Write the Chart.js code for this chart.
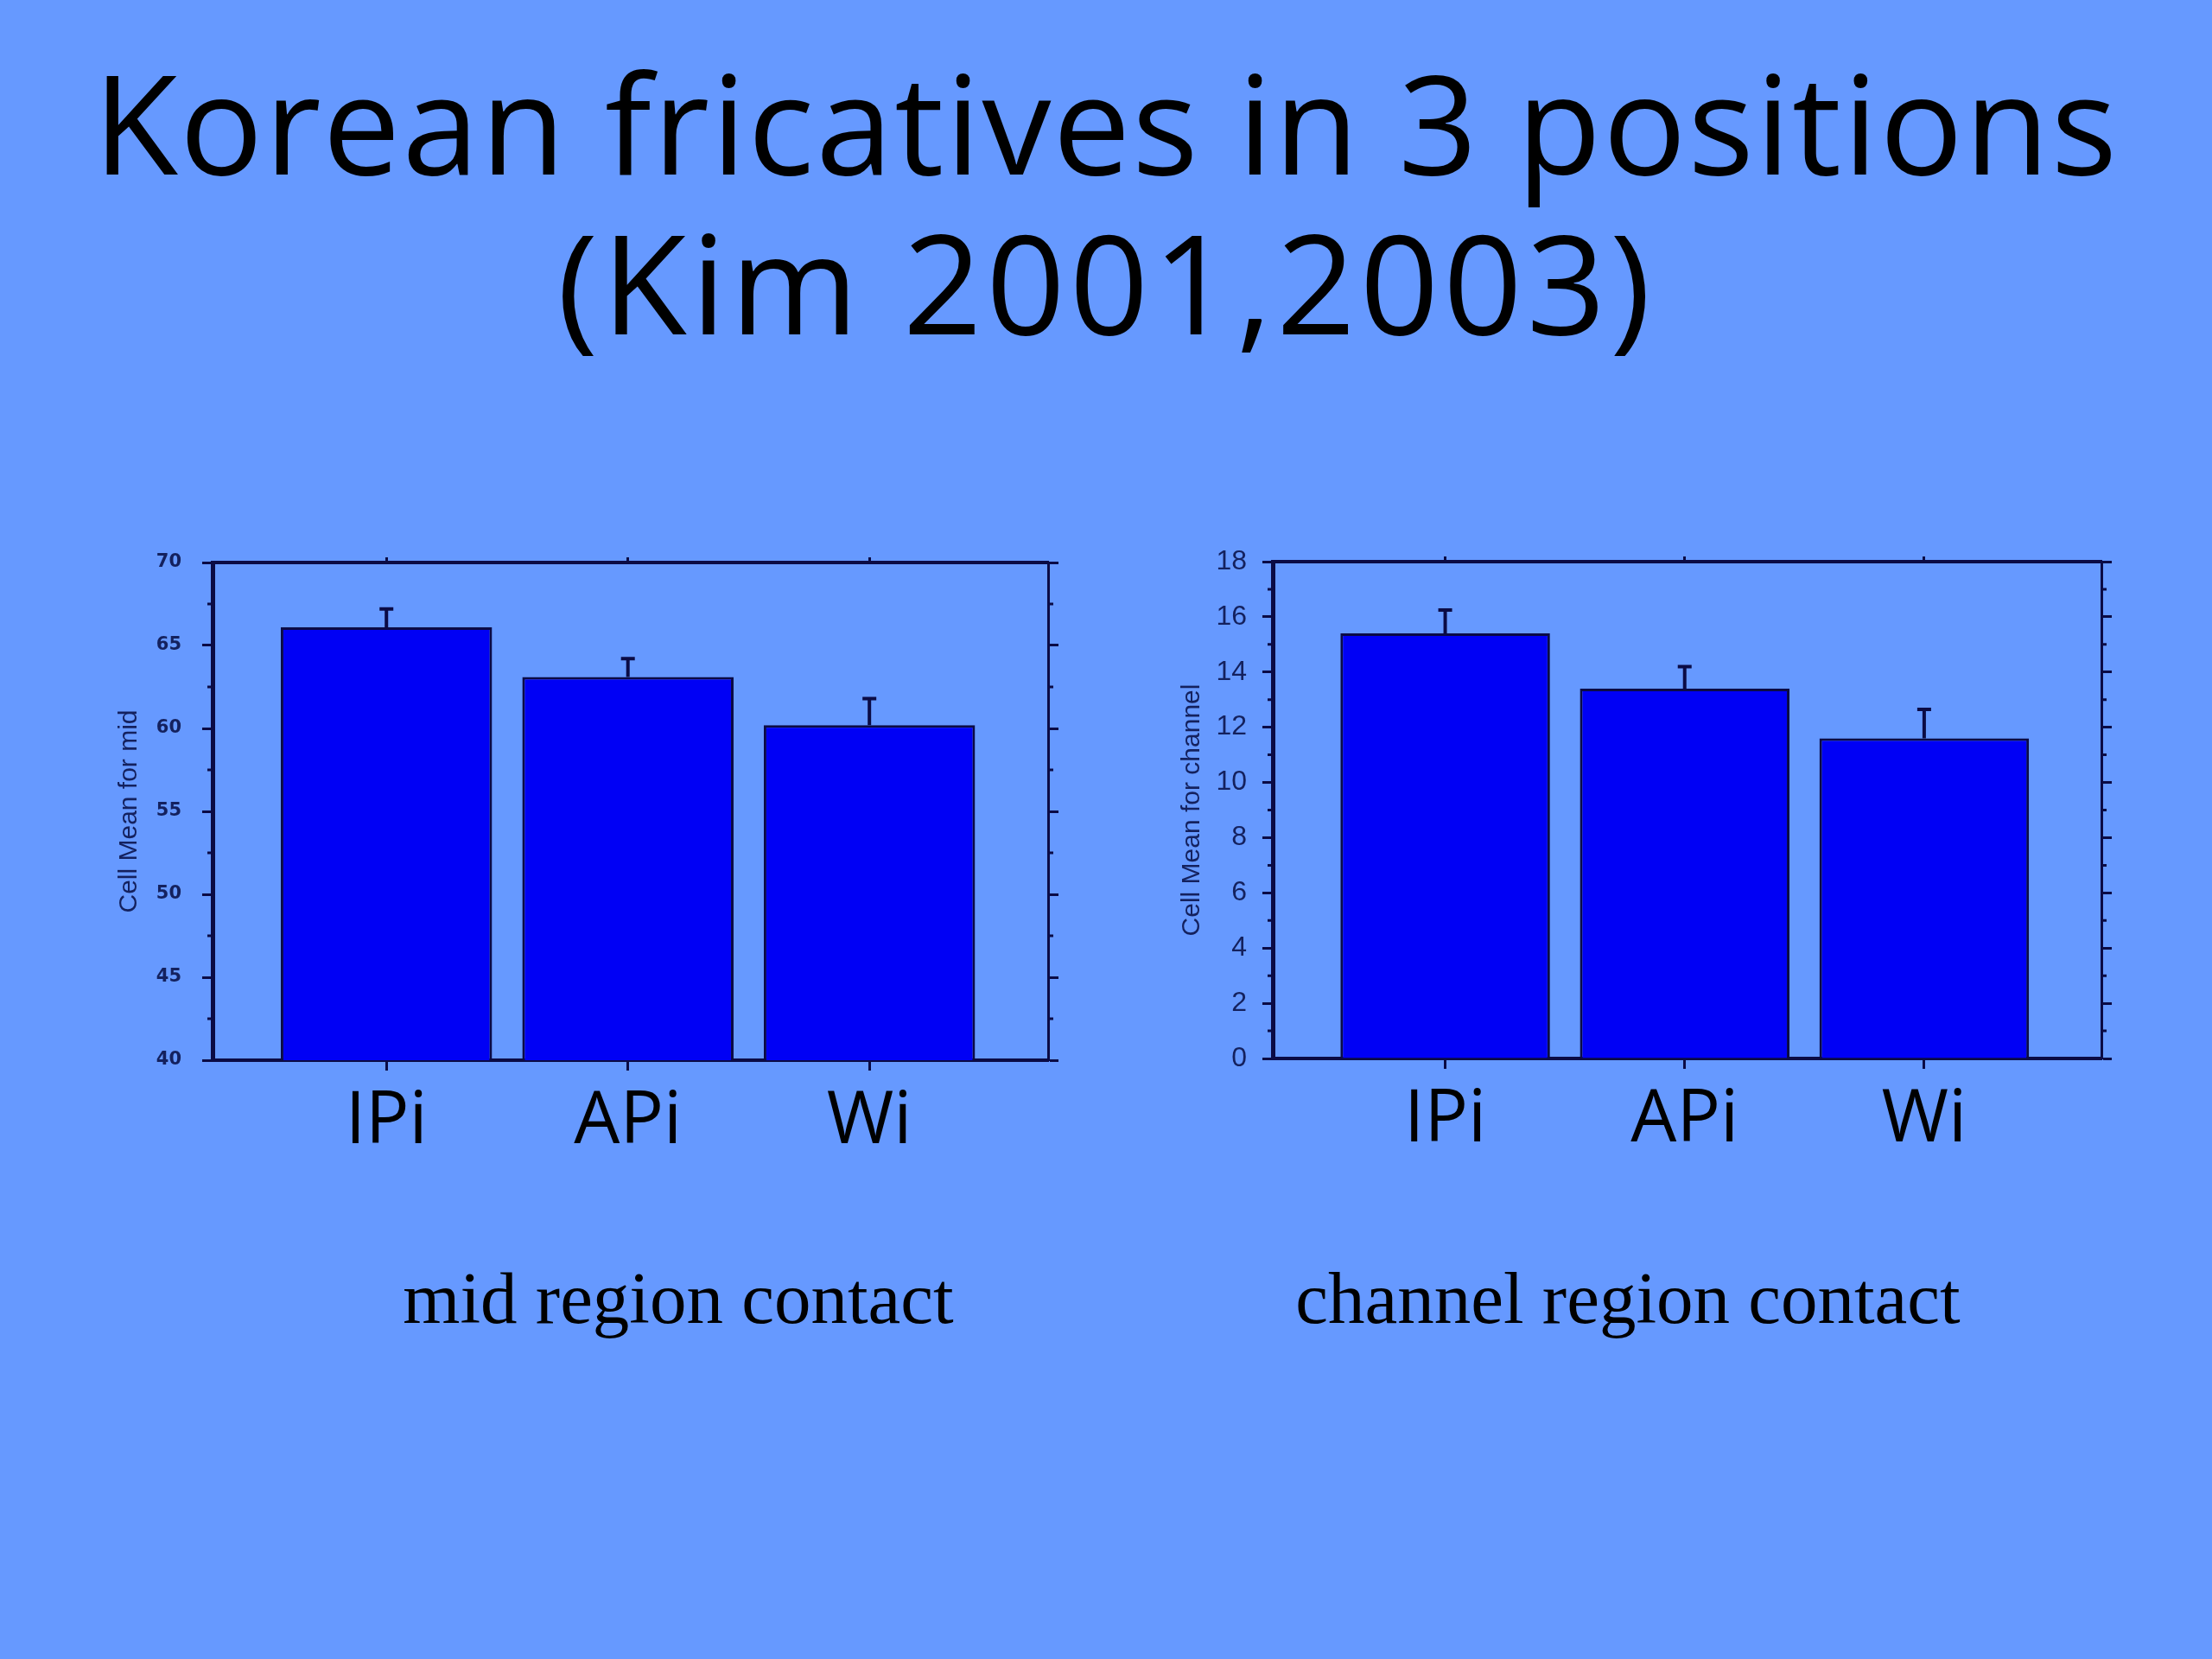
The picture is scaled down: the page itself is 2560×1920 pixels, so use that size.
<!DOCTYPE html>
<html lang="en">
<head>
<meta charset="utf-8">
<title>Korean fricatives in 3 positions</title>
<script src="https://cdn.jsdelivr.net/npm/chart.js@4.4.1/dist/chart.umd.min.js"></script>
<style>
    html, body { margin: 0; padding: 0; }
    body { width: 2560px; height: 1920px; background: #6699ff; position: relative; overflow: hidden; }
    .titulo { position: absolute; left: 0; width: 2560px; text-align: center; font-family: "Open Sans", sans-serif;
              font-size: 160px; line-height: 1; color: #000; white-space: nowrap; }
    .pie { position: absolute; font-family: "Liberation Serif", serif; font-size: 85px; line-height: 1;
           color: #000; white-space: nowrap; transform: translateX(-50%); }
    canvas { position: absolute; }
</style>
</head>
<body>
<div class="titulo" style="top:60px;letter-spacing:2px">Korean fricatives in 3 positions</div>
<div class="titulo" style="top:245px;letter-spacing:5px">(Kim 2001,2003)</div>

<canvas id="grafMid" width="1280" height="760" style="left:0;top:600px"></canvas>
<canvas id="grafCanal" width="1280" height="760" style="left:1280px;top:600px"></canvas>

<div class="pie" style="left:785px;top:1460px">mid region contact</div>
<div class="pie" style="left:1884px;top:1460px">channel region contact</div>

<script>
// datos
const categorias = ["IPi", "APi", "Wi"];
const mediasMid = [66.1, 63.1, 60.2];
const erroresMid = [1.1, 1.1, 1.6];
const mediasCanal = [15.4, 13.4, 11.6];
const erroresCanal = [0.85, 0.8, 1.05];
const ticksMid = [40, 45, 50, 55, 60, 65, 70];
const ticksCanal = [0, 2, 4, 6, 8, 10, 12, 14, 16, 18];

const AZUL_OSCURO = "#0b0b45";

// barras de error (solo hacia arriba, con tope)
const barrasError = {
    id: "barrasError",
    afterDatasetsDraw(chart, args, opts) {
        const { ctx, scales: { x, y } } = chart;
        const datos = chart.data.datasets[0].data;
        ctx.save();
        ctx.strokeStyle = AZUL_OSCURO;
        ctx.lineWidth = 4;
        opts.errores.forEach((e, i) => {
            const px = x.getPixelForValue(datos[i].x);
            const y0 = y.getPixelForValue(datos[i].y);
            const y1 = y.getPixelForValue(datos[i].y + e);
            ctx.beginPath();
            ctx.moveTo(px, y0);
            ctx.lineTo(px, y1);
            ctx.moveTo(px - 8, y1);
            ctx.lineTo(px + 8, y1);
            ctx.stroke();
        });
        ctx.restore();
    },
};

// marcas menores a mitad de cada intervalo, en ambos ejes verticales
const marcasMenores = {
    id: "marcasMenores",
    afterDraw(chart, args, opts) {
        const { ctx, chartArea, scales: { y } } = chart;
        const valores = opts.ticks;
        ctx.save();
        ctx.strokeStyle = AZUL_OSCURO;
        ctx.lineWidth = 3;
        for (let i = 0; i < valores.length - 1; i++) {
            const py = y.getPixelForValue((valores[i] + valores[i + 1]) / 2);
            ctx.beginPath();
            ctx.moveTo(chartArea.left - 6, py);
            ctx.lineTo(chartArea.left, py);
            ctx.moveTo(chartArea.right, py);
            ctx.lineTo(chartArea.right + 6, py);
            ctx.stroke();
        }
        ctx.restore();
    },
};

function ejeX(posicion, alto, conEtiquetas) {
    return {
        type: "linear",
        position: posicion,
        min: -0.72,
        max: 2.74,
        offset: false,
        afterBuildTicks: (ax) => { ax.ticks = categorias.map((_, i) => ({ value: i })); },
        afterFit: (ax) => { ax.height = alto; },
        ticks: {
            display: conEtiquetas,
            callback: (v) => categorias[v] ?? "",
            font: { family: "Open Sans", size: 84 },
            color: "#000",
            padding: 10,
            maxRotation: 0,
            autoSkip: false,
        },
        grid: {
            offset: false, drawOnChartArea: false, drawTicks: true,
            tickLength: conEtiquetas ? 12 : 6, tickWidth: 3, tickColor: AZUL_OSCURO,
        },
        border: { color: AZUL_OSCURO, width: 4 },
    };
}

function ejeY(posicion, min, max, marcas, ancho, fuente, relleno, titulo, margenTitulo) {
    const izquierda = posicion === "left";
    return {
        type: "linear",
        position: posicion,
        min: min,
        max: max,
        afterBuildTicks: (ax) => { ax.ticks = marcas.map((v) => ({ value: v })); },
        afterFit: (ax) => { ax.width = ancho; },
        ticks: { display: izquierda, font: fuente, color: "#14215e", padding: relleno },
        grid: { drawOnChartArea: false, drawTicks: true, tickLength: 12, tickWidth: 3, tickColor: AZUL_OSCURO },
        border: { color: AZUL_OSCURO, width: izquierda ? 5 : 3 },
        title: {
            display: izquierda && !!titulo,
            text: titulo,
            font: { family: "Liberation Sans", size: 30 },
            color: "#14215e",
            padding: { top: margenTitulo, bottom: 0 },
        },
    };
}

function graficoMedias(idCanvas, medias, errores, cfg) {
    const ctx = document.getElementById(idCanvas);
    return new Chart(ctx, {
        type: "bar",
        data: {
            datasets: [{
                data: medias.map((v, i) => ({ x: i, y: v })),
                backgroundColor: "#0000f5",
                borderColor: AZUL_OSCURO,
                borderWidth: 3,
                categoryPercentage: 1,
                barPercentage: 0.875,
                xAxisID: "x",
                yAxisID: "y",
            }],
        },
        options: {
            responsive: false,
            animation: false,
            devicePixelRatio: 1,
            layout: { padding: 0 },
            plugins: {
                legend: { display: false },
                tooltip: { enabled: false },
                barrasError: { errores: errores },
                marcasMenores: { ticks: cfg.ticks },
            },
            scales: {
                x: ejeX("bottom", cfg.altoAbajo, true),
                x2: ejeX("top", cfg.altoArriba, false),
                y: ejeY("left", cfg.min, cfg.max, cfg.ticks, cfg.anchoIzq, cfg.fuente, cfg.relleno, cfg.titulo, cfg.margenTitulo),
                y2: ejeY("right", cfg.min, cfg.max, cfg.ticks, cfg.anchoDer, cfg.fuente, cfg.relleno, "", 0),
            },
        },
        plugins: [barrasError, marcasMenores],
    });
}

graficoMedias("grafMid", mediasMid, erroresMid, {
    min: 40, max: 70, ticks: ticksMid,
    anchoIzq: 246, anchoDer: 67, altoArriba: 51, altoAbajo: 133,
    fuente: { family: "DejaVu Sans", size: 21, weight: "bold" }, relleno: 24,
    titulo: "Cell Mean for mid", margenTitulo: 132,
});

graficoMedias("grafCanal", mediasCanal, erroresCanal, {
    min: 0, max: 18, ticks: ticksCanal,
    anchoIzq: 193, anchoDer: 128, altoArriba: 50, altoAbajo: 135,
    fuente: { family: "Liberation Sans", size: 32 }, relleno: 18,
    titulo: "Cell Mean for channel", margenTitulo: 82,
});
</script>
</body>
</html>
